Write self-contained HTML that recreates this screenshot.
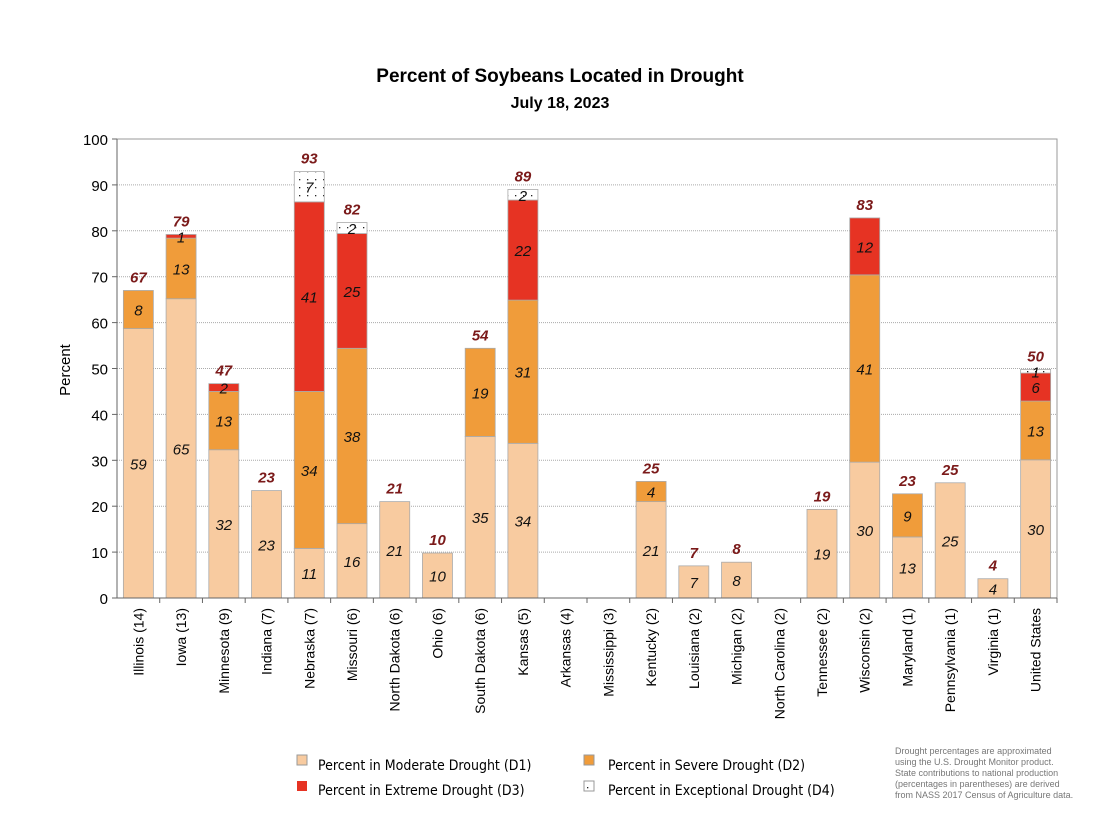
<!DOCTYPE html>
<html><head><meta charset="utf-8"><style>
body{margin:0;background:#fff;width:1118px;height:830px;overflow:hidden;font-family:"Liberation Sans",sans-serif}
</style></head><body>
<svg id="c" width="1118" height="830">
<defs><pattern id="dots" width="8" height="8" patternUnits="userSpaceOnUse"><rect width="8" height="8" fill="#fff"/><rect x="3" y="3" width="1.3" height="1.3" fill="#222"/></pattern></defs>
<text x="560" y="82" text-anchor="middle" font-size="19" font-weight="bold">Percent of Soybeans Located in Drought</text>
<text x="560" y="108" text-anchor="middle" font-size="16" font-weight="bold">July 18, 2023</text>
<text transform="translate(70,370) rotate(-90)" text-anchor="middle" font-size="15">Percent</text>
<g id="grid"></g><g id="bars"></g><g id="xl"></g>
<g font-size="14" font-family="'DejaVu Sans Condensed','Liberation Sans',sans-serif">
<rect x="297" y="755" width="10" height="10" fill="#f8cba0" stroke="#999"/>
<text x="318" y="770">Percent in Moderate Drought (D1)</text>
<rect x="584" y="755" width="10" height="10" fill="#f09c3a" stroke="#999"/>
<text x="608" y="770">Percent in Severe Drought (D2)</text>
<rect x="297" y="781" width="10" height="10" fill="#e63323"/>
<text x="318" y="795">Percent in Extreme Drought (D3)</text>
<rect x="584" y="781" width="10" height="10" fill="url(#dots)" stroke="#999"/>
<text x="608" y="795">Percent in Exceptional Drought (D4)</text>
</g>
<g font-size="9" fill="#777">
<text x="895" y="754">Drought percentages are approximated</text>
<text x="895" y="765">using the U.S. Drought Monitor product.</text>
<text x="895" y="776">State contributions to national production</text>
<text x="895" y="787">(percentages in parentheses) are derived</text>
<text x="895" y="798">from NASS 2017 Census of Agriculture data.</text>
</g>
</svg>
<script>
const categories=["Illinois (14)","Iowa (13)","Minnesota (9)","Indiana (7)","Nebraska (7)","Missouri (6)","North Dakota (6)","Ohio (6)","South Dakota (6)","Kansas (5)","Arkansas (4)","Mississippi (3)","Kentucky (2)","Louisiana (2)","Michigan (2)","North Carolina (2)","Tennessee (2)","Wisconsin (2)","Maryland (1)","Pennsylvania (1)","Virginia (1)","United States"];
const d1=[58.7,65.2,32.3,23.4,10.8,16.2,21,9.8,35.2,33.7,0,0,21,7,7.8,0,19.3,29.6,13.3,25.1,4.2,30.1];
const d2=[8.3,13.2,12.7,0,34.2,38.2,0,0,19.2,31.2,0,0,4.4,0,0,0,0,40.8,9.4,0,0,12.8];
const d3=[0,0.8,1.7,0,41.3,25.0,0,0,0,21.8,0,0,0,0,0,0,0,12.4,0,0,0,6.1];
const d4=[0,0,0,0,6.6,2.4,0,0,0,2.3,0,0,0,0,0,0,0,0,0,0,0,0.8];
const yTicks=[0,10,20,30,40,50,60,70,80,90,100];
const NS="http://www.w3.org/2000/svg";
const x0=117,x1=1057,yTop=139,yBot=598;
const y=v=>yBot-(v/100)*(yBot-yTop);
const step=(x1-x0)/categories.length;
const xc=i=>x0+step*(i+0.5);
function mk(t,a,p){const e=document.createElementNS(NS,t);for(const k in a)e.setAttribute(k,a[k]);p.appendChild(e);return e;}
const grid=document.getElementById('grid'),bars=document.getElementById('bars'),xl=document.getElementById('xl');
mk('rect',{x:x0,y:yTop,width:x1-x0,height:yBot-yTop,fill:'none',stroke:'#999'},grid);
yTicks.forEach(t=>{
 if(t>0&&t<100){const l=mk('line',{x1:x0,x2:x1,y1:y(t),y2:y(t),stroke:'#aaa','stroke-dasharray':'1,1'},grid);
 
 }
 mk('line',{x1:x0-5,x2:x0,y1:y(t),y2:y(t),stroke:'#666'},grid);
 const tx=mk('text',{x:x0-9,y:y(t)+6,'text-anchor':'end','font-size':'15'},grid);tx.textContent=t;
 
 
});
mk('line',{x1:x0,x2:x0,y1:yTop,y2:yBot,stroke:'#666'},grid);
const series=[[d1,'#f8cba0'],[d2,'#f09c3a'],[d3,'#e63323'],[d4,'url(#dots)']];
categories.forEach((c,i)=>{
 let base=0;const bw=30,bx=xc(i)-bw/2;
 series.forEach(([arr,col],s)=>{
  const v=arr[i];if(v<=0)return;
  const r=mk('rect',{x:bx,y:y(base+v),width:bw,height:y(base)-y(base+v),fill:col,stroke:'#aaa','stroke-width':'0.8'},bars);
  
  
  const lv=Math.round(v);
  if(lv>=1){const t=mk('text',{x:xc(i),y:y(base+v/2)+6,'text-anchor':'middle','font-size':'15','font-style':'italic',fill:'#111'},bars);t.textContent=lv;
   
   }
  base+=v;
 });
 if(base>0){const t=mk('text',{x:xc(i),y:y(base)-8,'text-anchor':'middle','font-size':'15','font-weight':'bold','font-style':'italic',fill:'#7b1a1a'},bars);t.textContent=Math.round(base);
  
  }
 mk('line',{x1:x0+step*(i+1),x2:x0+step*(i+1),y1:yBot,y2:yBot+5,stroke:'#666'},xl);
 const t=mk('text',{transform:`translate(${xc(i)+5},${yBot+10}) rotate(-90)`,'text-anchor':'end','font-size':'14'},xl);t.textContent=c;
 
 
});
mk('line',{x1:x0,x2:x1,y1:yBot,y2:yBot,stroke:'#666'},xl);
</script>
</body></html>
